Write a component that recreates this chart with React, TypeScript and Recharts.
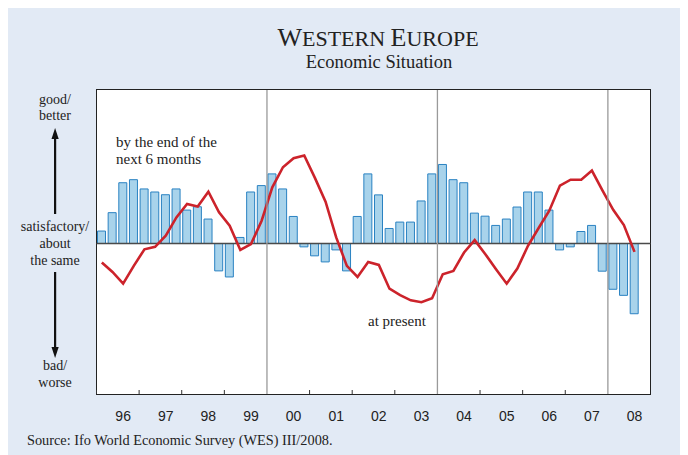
import React from 'react';
import { ComposedChart, Bar, Line, XAxis, YAxis, ReferenceLine } from 'recharts';

// quarterly, 1996 Q1 .. 2008 Q3 (2008 Q4 left empty)
const years = ['96', '97', '98', '99', '00', '01', '02', '03', '04', '05', '06', '07', '08'];

const expectations = [
  8.2, 20.3, 40, 42,
  35.9, 33.9, 32.1, 35.9,
  22, 24.2, 16.1, -18,
  -22, 4, 33.9, 38.1,
  45.8, 35.9, 17.8, -2.2,
  -8.1, -12.1, -4.2, -18,
  17.8, 45.8, 32, 9.9,
  14.1, 14.1, 28, 45.8,
  52, 42, 40, 20,
  18, 11.9, 16.1, 24,
  33.9, 33.9, 22, -4.2,
  -2.2, 7.9, 11.9, -18.2,
  -30.1, -34.1, -46.2,
];

const present = [
  -12.5, -18.7, -26.4, -14.7,
  -3.8, -2.2, 5.1, 17.2,
  26, 24.4, 34.1, 20.5,
  11.7, -4.2, -0.4, 15,
  37, 50.2, 56.1, 57.9,
  43.2, 27.5, 4, -14.7,
  -22, -12.1, -14.1, -29.7,
  -33.9, -37.4, -38.6, -36,
  -20.2, -18, -5.9, 2.2,
  -7, -16.9, -26.4, -16.5,
  -1.5, 10.2, 21.6, 38.1,
  42, 42, 48, 34.8,
  22.2, 12.1, -5.5,
];

// years that start with a full-height divider line
const dividerYears = ['00', '04', '08'];

const data = years.flatMap((y, yi) =>
  [1, 2, 3, 4].map((q, qi) => {
    const i = yi * 4 + qi;
    return {
      q: `${y}Q${q}`,
      expect: i < expectations.length ? expectations[i] : null,
      now: i < present.length ? present[i] : null,
    };
  })
);

const W = 672;
const H = 447;
const plot = { left: 88.5, top: 82, width: 554, height: 304 };
const plotBottom = plot.top + plot.height;
const bandW = plot.width / data.length;

const serif = '"Liberation Serif", "Times New Roman", serif';
const sans = '"Liberation Sans", Arial, sans-serif';

// one tick per quarter: marks at year starts, label under Q3
const QuarterTick = (props: any) => {
  const { x, payload } = props;
  const [yr, q] = String(payload.value).split('Q');
  const start = x - bandW / 2;
  return (
    <g>
      {q === '1' && (dividerYears.includes(yr) ? (
        <line x1={start} y1={plot.top} x2={start} y2={plotBottom} stroke="#9a9a9a" strokeWidth={1.3} />
      ) : (
        <line x1={start} y1={plotBottom} x2={start} y2={plotBottom - 4} stroke="#333" strokeWidth={1} />
      ))}
      {q === '3' && (
        <text x={x} y={plotBottom + 27} textAnchor="middle" fontFamily={sans} fontSize={14} fill="#222">
          {yr}
        </text>
      )}
    </g>
  );
};

const App: React.FC = () => {
  return (
    <div style={{ position: 'relative', width: W, height: H, background: '#e2eaf5' }}>
      <div
        style={{
          position: 'absolute',
          left: plot.left - 0.75,
          top: plot.top - 0.75,
          width: plot.width + 1.5,
          height: plot.height + 1.5,
          border: '1.5px solid #222',
          background: '#fff',
          boxSizing: 'border-box',
        }}
      />
      <div style={{ position: 'absolute', left: 0, top: 0 }}>
        <ComposedChart
          width={W}
          height={H}
          data={data}
          margin={{ top: plot.top, right: W - plot.left - plot.width, bottom: H - plotBottom - 30, left: plot.left }}
          barCategoryGap={0}
        >
          <XAxis
            dataKey="q"
            height={30}
            interval={0}
            axisLine={false}
            tickLine={false}
            tickSize={0}
            tickMargin={0}
            tick={<QuarterTick />}
          />
          <YAxis hide domain={[-99, 101]} allowDataOverflow />
          <Bar dataKey="expect" fill="#a8d3eb" stroke="#2a82c2" strokeWidth={1} barSize={8} isAnimationActive={false} />
          <ReferenceLine y={0} stroke="#4a4a4a" strokeWidth={1.5} />
          <Line type="linear" dataKey="now" stroke="#cc232b" strokeWidth={2.6} dot={false} isAnimationActive={false} />
        </ComposedChart>
      </div>
      <svg width={W} height={H} style={{ position: 'absolute', left: 0, top: 0, pointerEvents: 'none' }}>
        <text x={370} y={38} textAnchor="middle" fontFamily={serif} fill="#222">
          <tspan fontSize={26}>W</tspan>
          <tspan fontSize={22}>ESTERN </tspan>
          <tspan fontSize={26}>E</tspan>
          <tspan fontSize={22}>UROPE</tspan>
        </text>
        <text x={371} y={60} textAnchor="middle" fontFamily={serif} fontSize={18.5} fill="#222">
          Economic Situation
        </text>

        <g fontFamily={serif} fontSize={14} fill="#222" textAnchor="middle">
          <text x={47} y={96}>good/</text>
          <text x={47} y={112}>better</text>
          <text x={47} y={223}>satisfactory/</text>
          <text x={47} y={240}>about</text>
          <text x={47} y={257}>the same</text>
          <text x={47} y={362}>bad/</text>
          <text x={47} y={379}>worse</text>
        </g>
        <g fill="#111" stroke="none">
          <rect x={46} y={128} width={2.2} height={78} />
          <path d="M43.5,131 L47.1,120 L50.7,131 Z" />
          <rect x={46} y={264} width={2.2} height={78} />
          <path d="M43.5,339 L47.1,350 L50.7,339 Z" />
        </g>

        <g fontFamily={serif} fontSize={15} fill="#222">
          <text x={108} y={139}>by the end of the</text>
          <text x={108} y={156}>next 6 months</text>
          <text x={360} y={318}>at present</text>
        </g>
        <text x={19} y={437} fontFamily={serif} fontSize={14.3} fill="#222">
          Source: Ifo World Economic Survey (WES) III/2008.
        </text>
      </svg>
    </div>
  );
};

export default App;
